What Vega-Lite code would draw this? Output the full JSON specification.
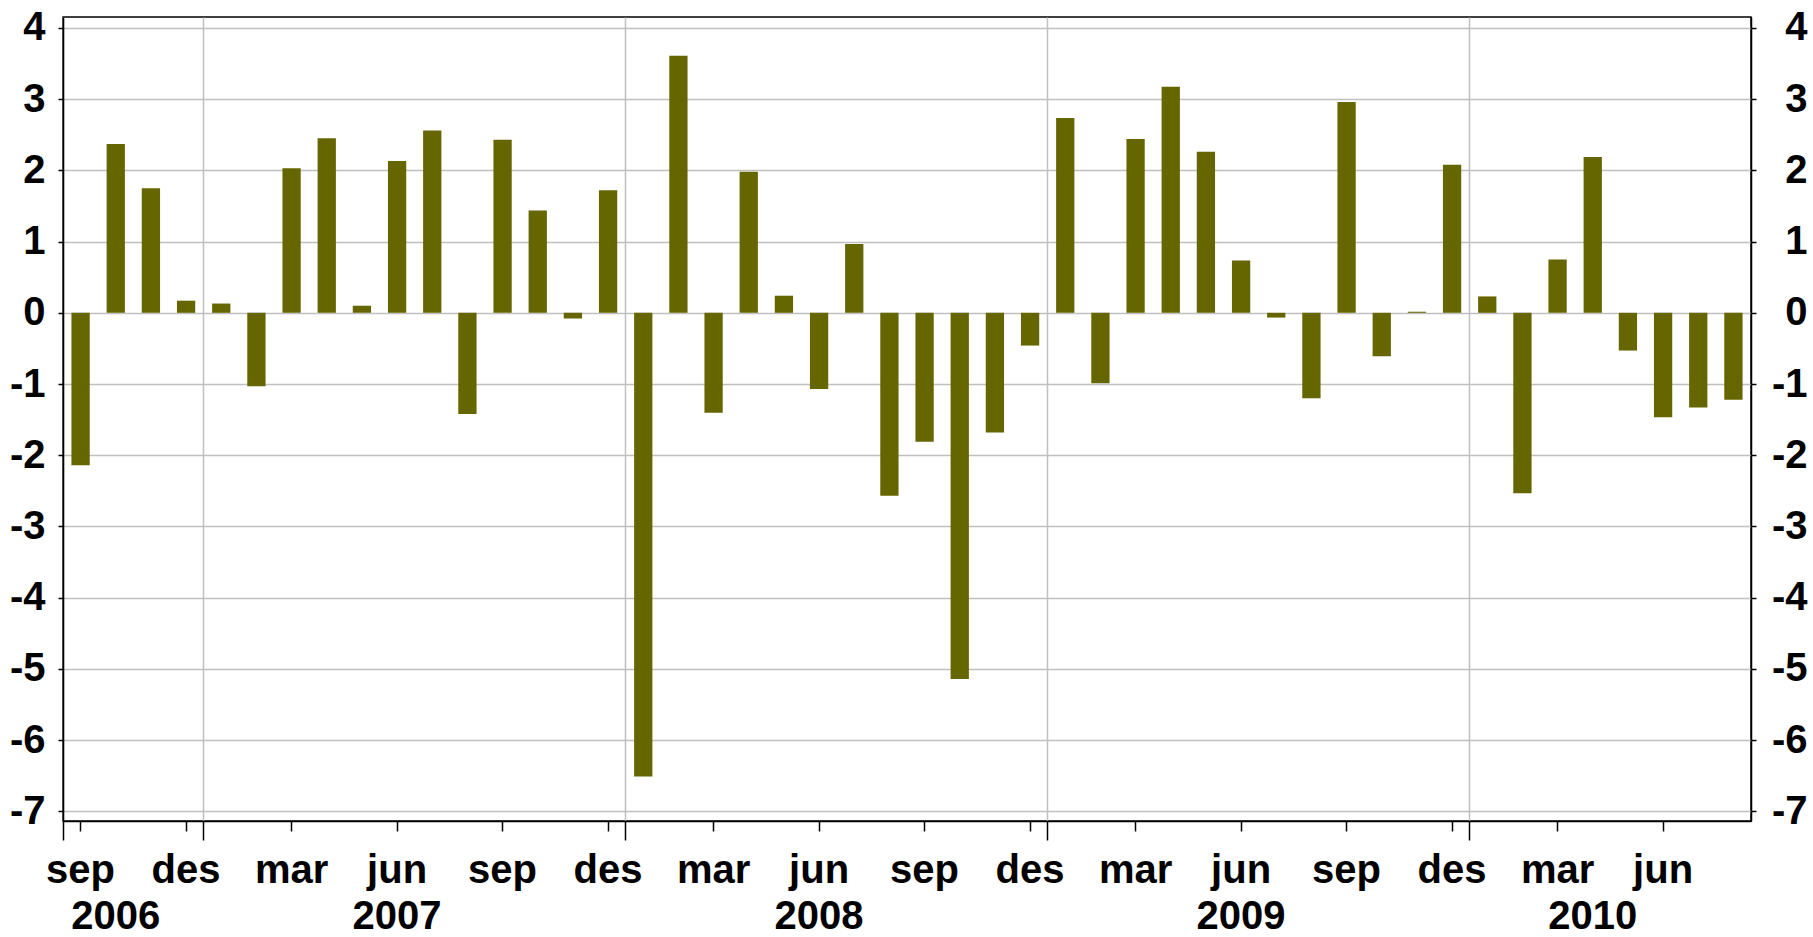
{
  "$schema": "https://vega.github.io/schema/vega-lite/v6.json",
  "width": 1688,
  "height": 804,
  "autosize": {"type": "none"},
  "padding": {"left": 63, "top": 17, "right": 62, "bottom": 116},
  "background": "white",
  "config": {
    "view": {"stroke": "black", "strokeWidth": 1.5},
    "axis": {
      "labelFont": "Liberation Sans",
      "labelFontSize": 40,
      "labelFontWeight": "bold",
      "labelColor": "black",
      "domainColor": "black",
      "domainWidth": 1.5,
      "tickColor": "black",
      "tickWidth": 1.5,
      "gridColor": "#c0c0c0",
      "gridWidth": 1.5,
      "gridOpacity": 1,
      "labelOverlap": false,
      "labelFlush": false,
      "title": null
    }
  },
  "data": {
    "values": [
      {"month": "2006-09", "value": -2.14},
      {"month": "2006-10", "value": 2.37},
      {"month": "2006-11", "value": 1.75},
      {"month": "2006-12", "value": 0.17},
      {"month": "2007-01", "value": 0.13},
      {"month": "2007-02", "value": -1.03},
      {"month": "2007-03", "value": 2.03},
      {"month": "2007-04", "value": 2.45},
      {"month": "2007-05", "value": 0.1},
      {"month": "2007-06", "value": 2.13},
      {"month": "2007-07", "value": 2.56},
      {"month": "2007-08", "value": -1.42},
      {"month": "2007-09", "value": 2.43},
      {"month": "2007-10", "value": 1.435},
      {"month": "2007-11", "value": -0.08},
      {"month": "2007-12", "value": 1.72},
      {"month": "2008-01", "value": -6.51},
      {"month": "2008-02", "value": 3.61},
      {"month": "2008-03", "value": -1.405},
      {"month": "2008-04", "value": 1.98},
      {"month": "2008-05", "value": 0.24},
      {"month": "2008-06", "value": -1.07},
      {"month": "2008-07", "value": 0.967},
      {"month": "2008-08", "value": -2.57},
      {"month": "2008-09", "value": -1.81},
      {"month": "2008-10", "value": -5.14},
      {"month": "2008-11", "value": -1.68},
      {"month": "2008-12", "value": -0.46},
      {"month": "2009-01", "value": 2.736},
      {"month": "2009-02", "value": -0.99},
      {"month": "2009-03", "value": 2.44},
      {"month": "2009-04", "value": 3.175},
      {"month": "2009-05", "value": 2.26},
      {"month": "2009-06", "value": 0.736},
      {"month": "2009-07", "value": -0.067},
      {"month": "2009-08", "value": -1.2},
      {"month": "2009-09", "value": 2.96},
      {"month": "2009-10", "value": -0.61},
      {"month": "2009-11", "value": 0.015},
      {"month": "2009-12", "value": 2.08},
      {"month": "2010-01", "value": 0.23},
      {"month": "2010-02", "value": -2.535},
      {"month": "2010-03", "value": 0.75},
      {"month": "2010-04", "value": 2.186},
      {"month": "2010-05", "value": -0.53},
      {"month": "2010-06", "value": -1.465},
      {"month": "2010-07", "value": -1.33},
      {"month": "2010-08", "value": -1.22}
    ]
  },
  "resolve": {"axis": {"x": "independent", "y": "independent"}},
  "layer": [
    {
      "mark": {"type": "bar", "color": "#666600", "width": {"band": 0.52}},
      "encoding": {
        "x": {
          "field": "month",
          "type": "ordinal",
          "scale": {"paddingInner": 0, "paddingOuter": 0},
          "axis": {
            "orient": "bottom",
            "values": ["2006-09", "2006-12", "2007-03", "2007-06", "2007-09", "2007-12", "2008-03", "2008-06", "2008-09", "2008-12", "2009-03", "2009-06", "2009-09", "2009-12", "2010-03", "2010-06"],
            "bandPosition": 0.5,
            "labelExpr": "substring(datum.value,5,7) == '09' ? 'sep' : substring(datum.value,5,7) == '12' ? 'des' : substring(datum.value,5,7) == '03' ? 'mar' : 'jun'",
            "labelAngle": 0,
            "labelAlign": "center",
            "labelBaseline": "alphabetic",
            "tickSize": 10,
            "labelPadding": 51,
            "grid": false,
            "domain": true
          }
        },
        "y": {
          "field": "value",
          "type": "quantitative",
          "scale": {"domain": [-7.135, 4.153], "nice": false, "zero": false},
          "axis": {
            "orient": "left",
            "values": [-7, -6, -5, -4, -3, -2, -1, 0, 1, 2, 3, 4],
            "labelExpr": "'' + datum.value",
            "grid": true,
            "tickSize": 5,
            "labelPadding": 13,
            "labelAlign": "right",
            "labelBaseline": "middle"
          }
        }
      }
    },
    {
      "mark": {"type": "bar", "opacity": 0, "width": {"band": 0.52}},
      "encoding": {
        "x": {
          "field": "month",
          "type": "ordinal",
          "axis": {
            "orient": "bottom",
            "values": ["2006-10", "2007-06", "2008-06", "2009-06", "2010-04"],
            "bandPosition": 1,
            "labelExpr": "substring(datum.value,0,4)",
            "labelAngle": 0,
            "labelAlign": "center",
            "labelBaseline": "alphabetic",
            "ticks": false,
            "tickSize": 0,
            "labelPadding": 107,
            "domain": false,
            "grid": false
          }
        },
        "y": {
          "field": "value",
          "type": "quantitative",
          "axis": {
            "orient": "right",
            "values": [-7, -6, -5, -4, -3, -2, -1, 0, 1, 2, 3, 4],
            "labelExpr": "'' + datum.value",
            "grid": false,
            "tickSize": 5,
            "labelPadding": 51,
            "labelAlign": "right",
            "labelBaseline": "middle"
          }
        }
      }
    },
    {
      "mark": {"type": "bar", "opacity": 0, "width": {"band": 0.52}},
      "encoding": {
        "x": {
          "field": "month",
          "type": "ordinal",
          "axis": {
            "orient": "bottom",
            "values": ["2006-09", "2007-01", "2008-01", "2009-01", "2010-01"],
            "bandPosition": 0,
            "labels": false,
            "ticks": true,
            "tickSize": 19,
            "domain": false,
            "grid": true
          }
        },
        "y": {
          "field": "value",
          "type": "quantitative",
          "axis": null
        }
      }
    }
  ]
}
